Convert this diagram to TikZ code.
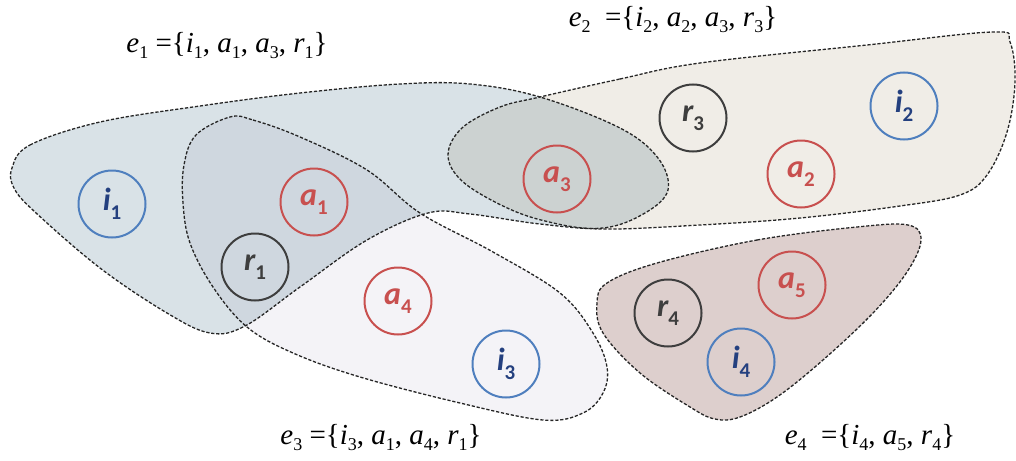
\documentclass[tikz,border=0pt]{standalone}
\usepackage{fontspec}
\setmainfont{Liberation Serif}
\newfontfamily\calfont{Carlito}
\definecolor{eone}{HTML}{D9E2E7}
\definecolor{etwo}{HTML}{F0EDE7}
\definecolor{ethree}{HTML}{F4F3F7}
\definecolor{efour}{HTML}{DDCFCD}
\definecolor{iblue}{HTML}{4F7FBE}
\definecolor{itext}{HTML}{24407F}
\definecolor{ared}{HTML}{C8504F}
\definecolor{rgray}{HTML}{3E3E3E}
\newcommand{\sbs}[1]{\raisebox{-6pt}{\fontsize{18}{18}\selectfont #1}}
\newcommand{\vsub}[1]{\raisebox{-9pt}{\fontsize{21}{21}\selectfont\upshape #1}}
\tikzset{
  hedge/.style={draw=black!85, line width=1.3pt, dash pattern=on 3.2pt off 1.8pt},
  hfill/.style={fill=#1, blend mode=multiply},
  vtx/.style={circle, line width=2pt, minimum size=67pt, inner sep=0pt,
    font=\calfont\bfseries\itshape\fontsize{32}{32}\selectfont},
  ivtx/.style={vtx, draw=iblue, text=itext},
  avtx/.style={vtx, draw=ared, text=ared},
  rvtx/.style={vtx, draw=rgray, text=rgray},
  elabel/.style={font=\fontsize{29}{31}\selectfont, inner sep=0pt}
}
\begin{document}
\begin{tikzpicture}[x=1pt,y=-1pt]
\useasboundingbox (0,0) rectangle (1016,460);
\fill[white] (0,0) rectangle (1016,460);
% hyperedge shapes
\def\eonepath{plot[smooth cycle, tension=0.6] coordinates {(12,168) (30,145) (100,122) (200,106) (300,93) (400,84) (470,84) (540,97) (620,128) (658,158) (668,190) (645,213) (603,228) (540,224) (470,214) (428,213) (367,240) (300,287) (245,326) (210,333) (167,313) (100,268) (35,212) (14,188)}}
\def\etwopath{plot[smooth cycle, tension=0.6] coordinates {(540,97) (620,79) (700,63) (867,45) (993,32) (1010,42) (1015,82) (1007,132) (987,175) (960,195) (900,206) (800,218) (700,225) (600,229) (545,221) (503,206) (462,181) (448,155) (462,128) (500,107)}}
\def\ethreepath{plot[smooth cycle, tension=0.6] coordinates {(230,117) (253,120) (300,137) (367,170) (420,213) (493,252) (560,293) (593,333) (607,367) (603,393) (583,413) (543,420) (460,403) (360,377) (293,353) (247,327) (213,287) (190,243) (183,203) (184,165) (196,135)}}
\def\efourpath{plot[smooth cycle, tension=0.6] coordinates {(657,263) (757,240) (857,227) (908,225) (921,240) (907,272) (873,313) (823,360) (777,397) (740,417) (715,419) (690,407) (640,373) (603,333) (597,303) (607,283)}}
\fill[hfill=ethree] \ethreepath;
\fill[hfill=eone] \eonepath;
\fill[hfill=etwo] \etwopath;
\fill[hfill=efour] \efourpath;
\draw[hedge] \ethreepath;
\draw[hedge] \eonepath;
\draw[hedge] \etwopath;
\draw[hedge] \efourpath;
% vertices
\node[ivtx] (i1) at (112,204) {i\vsub{1}};
\node[avtx] (a1) at (314,202) {a\vsub{1}};
\node[rvtx] (r1) at (255,267) {r\vsub{1}};
\node[avtx] (a4) at (398,301) {a\vsub{4}};
\node[ivtx] (i3) at (506,364) {i\vsub{3}};
\node[avtx] (a3) at (557,179) {a\vsub{3}};
\node[rvtx] (r3) at (693,118) {r\vsub{3}};
\node[avtx] (a2) at (801,174) {a\vsub{2}};
\node[ivtx] (i2) at (904,106) {i\vsub{2}};
\node[rvtx] (r4) at (668,313) {r\vsub{4}};
\node[avtx] (a5) at (792,285) {a\vsub{5}};
\node[ivtx] (i4) at (741,362) {i\vsub{4}};
% labels
\node[elabel] (l1) at (227,46) {\textit{e}\sbs{1} =\{\textit{i}\sbs{1}, \textit{a}\sbs{1}, \textit{a}\sbs{3}, \textit{r}\sbs{1}\}};
\node[elabel] (l2) at (673,20) {\textit{e}\sbs{2}\ \ =\{\textit{i}\sbs{2}, \textit{a}\sbs{2}, \textit{a}\sbs{3}, \textit{r}\sbs{3}\}};
\node[elabel] (l3) at (381,438) {\textit{e}\sbs{3} =\{\textit{i}\sbs{3}, \textit{a}\sbs{1}, \textit{a}\sbs{4}, \textit{r}\sbs{1}\}};
\node[elabel] (l4) at (870,438) {\textit{e}\sbs{4}\ \ =\{\textit{i}\sbs{4}, \textit{a}\sbs{5}, \textit{r}\sbs{4}\}};
\end{tikzpicture}
\end{document}
